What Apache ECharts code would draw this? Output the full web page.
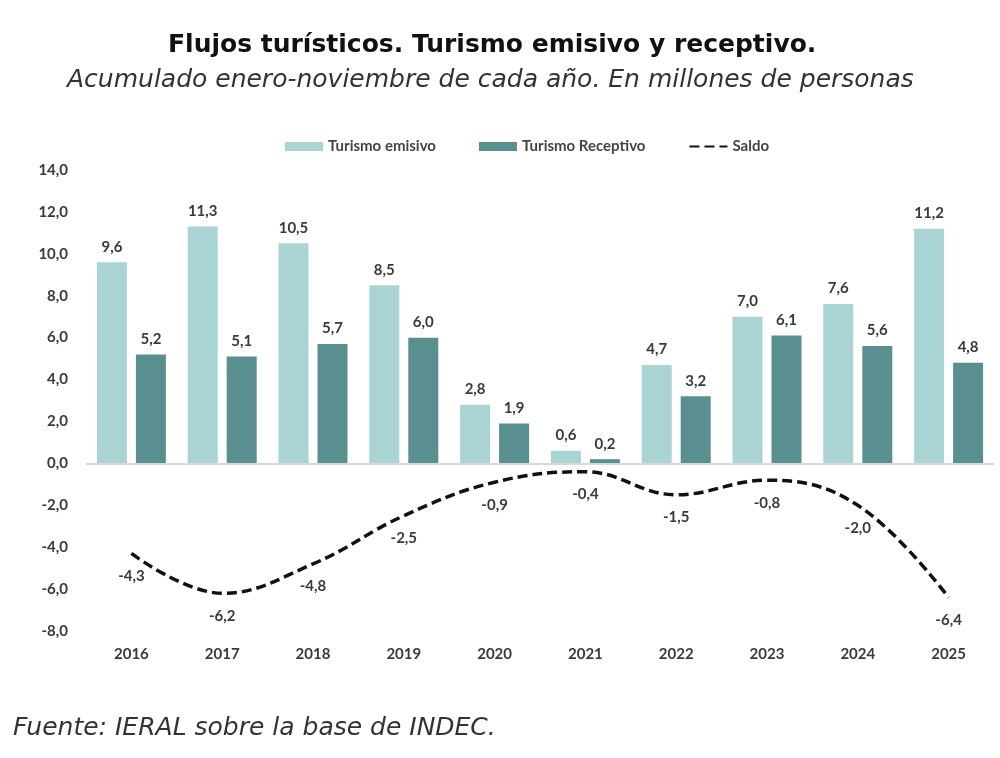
<!DOCTYPE html>
<html>
<head>
<meta charset="utf-8">
<script src="https://cdn.jsdelivr.net/npm/echarts@6/dist/echarts.min.js"></script>
<style>
  html, body { margin: 0; padding: 0; background: #fff; }
  #chart { width: 1000px; height: 758px; }
</style>
</head>
<body>
<div id="chart"></div>
<script>
const years = ['2016', '2017', '2018', '2019', '2020', '2021', '2022', '2023', '2024', '2025'];
const emisivo = [9.6, 11.3, 10.5, 8.5, 2.8, 0.6, 4.7, 7.0, 7.6, 11.2];
const receptivo = [5.2, 5.1, 5.7, 6.0, 1.9, 0.2, 3.2, 6.1, 5.6, 4.8];
const saldo = [-4.3, -6.2, -4.8, -2.5, -0.9, -0.4, -1.5, -0.8, -2.0, -6.4];

const fmt = v => Number(v).toFixed(1).replace('.', ',');
const labelFont = { fontFamily: 'Lato', fontWeight: 'bold', fontSize: 15, color: '#3a3a3a' };

const chart = echarts.init(document.getElementById('chart'));
chart.setOption({
  backgroundColor: '#fff',
  animation: false,
  title: [
    {
      text: 'Flujos turísticos. Turismo emisivo y receptivo.',
      left: 163, top: 28,
      textStyle: { fontFamily: 'DejaVu Sans', fontWeight: 'bold', fontSize: 25, color: '#111' }
    },
    {
      text: 'Acumulado enero-noviembre de cada año. En millones de personas',
      left: 62, top: 63,
      textStyle: { fontFamily: 'DejaVu Sans', fontStyle: 'italic', fontWeight: 'normal', fontSize: 25, color: '#333' }
    },
    {
      text: 'Fuente: IERAL sobre la base de INDEC.',
      left: 8, top: 711,
      textStyle: { fontFamily: 'DejaVu Sans', fontStyle: 'italic', fontWeight: 'normal', fontSize: 25, color: '#333' }
    }
  ],
  legend: {
    top: 134,
    left: 280,
    itemWidth: 38,
    itemHeight: 9,
    itemGap: 43,
    textStyle: { fontFamily: 'Lato', fontWeight: 'bold', fontSize: 15, color: '#444' },
    data: [
      { name: 'Turismo emisivo', icon: 'rect' },
      { name: 'Turismo Receptivo', icon: 'rect' },
      { name: 'Saldo', itemStyle: { opacity: 0 } }
    ]
  },
  grid: { left: 86, right: 6, top: 170, bottom: 127 },
  xAxis: {
    type: 'category',
    data: years,
    axisLine: { show: false, onZero: false },
    axisTick: { show: false },
    axisLabel: Object.assign({ margin: 16 }, labelFont, { fontSize: 15 })
  },
  yAxis: {
    type: 'value',
    min: -8, max: 14, interval: 2,
    splitLine: { show: false },
    axisLine: { show: false },
    axisLabel: Object.assign({ margin: 18, formatter: fmt }, labelFont, { fontSize: 15 })
  },
  series: [
    {
      name: 'Turismo emisivo',
      type: 'bar',
      data: emisivo,
      barWidth: 30,
      barGap: '30%',
      itemStyle: { color: '#aad3d4' },
      label: Object.assign({ show: true, position: 'top', distance: 8, formatter: p => fmt(p.value) }, labelFont),
      markLine: {
        silent: true, symbol: 'none', label: { show: false },
        lineStyle: { color: '#d9d9d9', type: 'solid', width: 2 },
        data: [{ yAxis: 0 }]
      }
    },
    {
      name: 'Turismo Receptivo',
      type: 'bar',
      data: receptivo,
      barWidth: 30,
      itemStyle: { color: '#5a8f90' },
      label: Object.assign({ show: true, position: 'top', distance: 8, formatter: p => fmt(p.value) }, labelFont)
    },
    {
      name: 'Saldo',
      type: 'line',
      data: saldo,
      smooth: 0.4,
      symbol: 'circle',
      symbolSize: 0.1,
      showSymbol: true,
      lineStyle: { color: '#111', width: 3.5, type: [10, 5] },
      itemStyle: { color: '#111' },
      label: Object.assign({ show: true, position: 'bottom', distance: 15, formatter: p => fmt(p.value) }, labelFont)
    }
  ]
});
</script>
</body>
</html>
